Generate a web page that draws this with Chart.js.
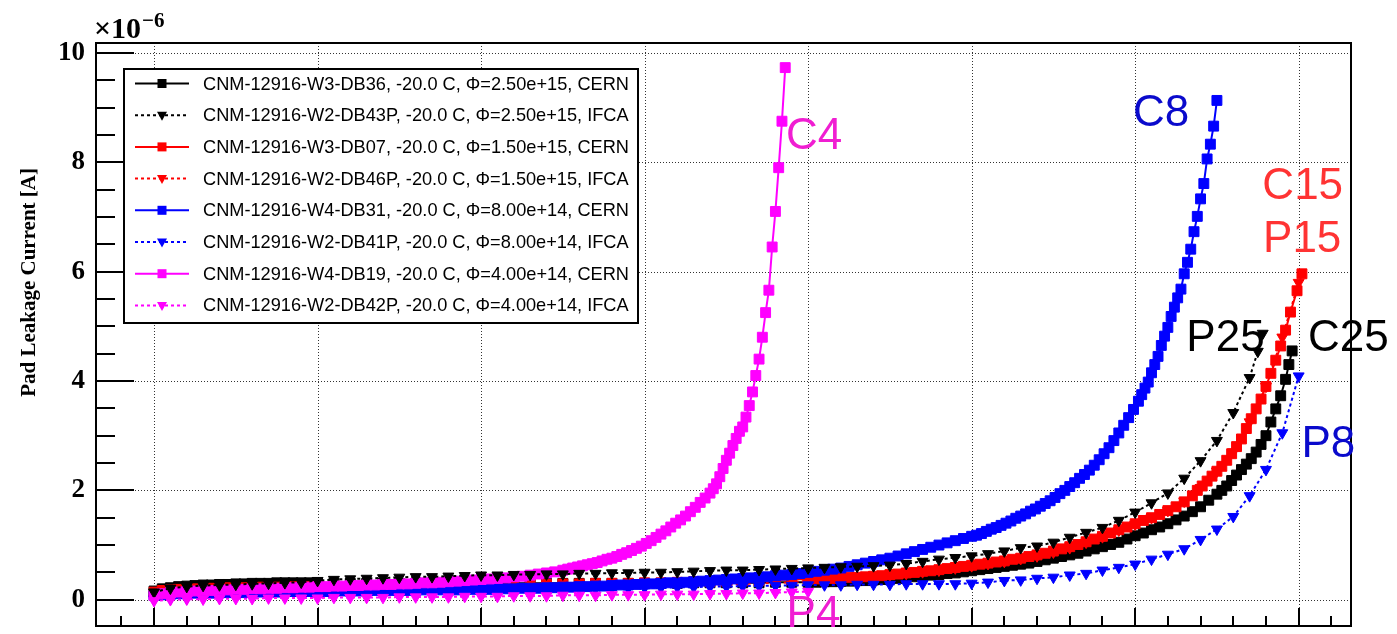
<!DOCTYPE html>
<html><head><meta charset="utf-8">
<script src="https://cdn.jsdelivr.net/npm/chart.js@4.4.1/dist/chart.umd.min.js"></script>
<style>html,body{margin:0;padding:0;background:#fff;overflow:hidden;}</style>
</head><body>
<canvas id="c" width="1397" height="634"></canvas>
<script>
// ---- Bias voltage [V] and pad leakage current [x1e-6 A] ----
const cernBlackV = [0,5,10,15,20,25,30,35,40,45,50,55,60,65,70,75,80,85,90,95,100,110,120,130,140,150,160,170,180,190,200,210,220,230,240,250,260,270,280,290,300,310,320,330,340,350,360,370,380,390,400,405,410,415,420,425,430,435,440,445,450,455,460,465,470,475,480,485,490,495,500,505,510,515,520,525,530,535,540,545,550,555,560,565,570,575,580,585,590,595,600,605,610,615,620,625,630,635,640,645,650,653,656,659,662,665,668,671,674,677,680,683,686,689,692,694,696];
const cernBlackI = [0.16,0.2,0.22,0.24,0.25,0.26,0.27,0.27,0.28,0.28,0.29,0.29,0.3,0.3,0.3,0.31,0.31,0.31,0.31,0.31,0.31,0.3,0.3,0.3,0.3,0.3,0.3,0.3,0.3,0.3,0.3,0.3,0.3,0.3,0.3,0.3,0.3,0.3,0.3,0.3,0.3,0.3,0.3,0.31,0.31,0.31,0.31,0.31,0.32,0.32,0.32,0.32,0.33,0.33,0.34,0.34,0.35,0.35,0.36,0.37,0.38,0.39,0.41,0.42,0.43,0.45,0.46,0.48,0.49,0.51,0.53,0.55,0.57,0.59,0.61,0.63,0.65,0.67,0.7,0.73,0.76,0.79,0.82,0.85,0.89,0.93,0.97,1.01,1.05,1.11,1.17,1.22,1.28,1.33,1.39,1.46,1.53,1.61,1.7,1.82,1.93,2.0,2.08,2.18,2.28,2.38,2.48,2.58,2.7,2.84,3.0,3.25,3.49,3.73,4.03,4.3,4.55];

const ifcaBlackV = [0,10,20,30,40,50,60,70,80,90,100,110,120,130,140,150,160,170,180,190,200,210,220,230,240,250,260,270,280,290,300,310,320,330,340,350,360,370,380,390,400,410,420,430,440,450,460,470,480,490,500,510,520,530,540,550,560,570,580,590,600,610,620,630,640,650,660,670,675,678];
const ifcaBlackI = [0.14,0.21,0.24,0.26,0.27,0.28,0.29,0.3,0.31,0.32,0.35,0.37,0.38,0.39,0.4,0.41,0.42,0.42,0.43,0.44,0.45,0.45,0.46,0.46,0.47,0.47,0.48,0.48,0.49,0.49,0.5,0.5,0.51,0.52,0.53,0.54,0.54,0.55,0.56,0.57,0.58,0.59,0.6,0.61,0.62,0.63,0.66,0.7,0.74,0.77,0.8,0.84,0.89,0.95,0.98,1.05,1.14,1.23,1.32,1.45,1.6,1.77,1.95,2.22,2.54,2.91,3.42,4.06,4.54,4.87];

const cernRedV = [0,5,10,15,20,25,30,35,40,45,50,55,60,65,70,75,80,85,90,95,100,110,120,130,140,150,160,170,180,190,200,210,220,230,240,250,260,270,280,290,300,310,320,330,340,350,360,370,380,390,400,405,410,415,420,425,430,435,440,445,450,455,460,465,470,475,480,485,490,495,500,505,510,515,520,525,530,535,540,545,550,555,560,565,570,575,580,585,590,595,600,605,610,615,620,625,630,635,638,641,644,647,650,653,656,659,662,665,668,671,674,677,680,683,686,689,692,695,699,702];
const cernRedI = [0.14,0.17,0.18,0.19,0.2,0.2,0.21,0.21,0.21,0.22,0.22,0.22,0.22,0.23,0.23,0.23,0.23,0.24,0.24,0.24,0.24,0.24,0.25,0.25,0.25,0.25,0.26,0.26,0.26,0.27,0.27,0.27,0.28,0.28,0.28,0.29,0.29,0.3,0.3,0.3,0.31,0.31,0.32,0.33,0.33,0.34,0.35,0.35,0.36,0.37,0.38,0.38,0.39,0.39,0.4,0.41,0.41,0.42,0.43,0.44,0.46,0.47,0.49,0.5,0.52,0.53,0.55,0.57,0.59,0.61,0.63,0.65,0.67,0.69,0.71,0.74,0.76,0.79,0.82,0.85,0.89,0.93,0.97,1.01,1.06,1.11,1.16,1.22,1.28,1.33,1.39,1.45,1.5,1.56,1.63,1.7,1.79,1.9,2.0,2.08,2.17,2.26,2.35,2.44,2.55,2.67,2.8,2.94,3.13,3.31,3.49,3.67,3.9,4.14,4.38,4.64,4.93,5.26,5.65,5.96];

const ifcaRedV = [0,10,20,30,40,50,60,70,80,90,100,110,120,130,140,150,160,170,180,190,200,210,220,230,240,250,260,270,280,290,300,310,320,330,340,350,360,370,380,390,400,410,420,430,440,450,460,470,480,490,500,510,520,530,540,550,560,570,580,590,600,610,620,630,640,650,660,670,680,690,700];
const ifcaRedI = [0.02,0.05,0.07,0.09,0.1,0.11,0.12,0.13,0.14,0.15,0.15,0.16,0.16,0.17,0.17,0.18,0.18,0.19,0.19,0.2,0.2,0.2,0.21,0.21,0.22,0.22,0.23,0.23,0.24,0.24,0.25,0.25,0.26,0.26,0.27,0.28,0.29,0.3,0.31,0.32,0.34,0.36,0.38,0.4,0.42,0.45,0.48,0.51,0.54,0.58,0.62,0.66,0.7,0.75,0.8,0.87,0.95,1.05,1.15,1.27,1.38,1.5,1.63,1.8,2.05,2.35,2.7,3.25,3.9,4.8,5.8];

const cernBlueV = [0,5,10,15,20,25,30,35,40,45,50,55,60,65,70,75,80,85,90,95,100,105,110,115,120,125,130,135,140,145,150,155,160,165,170,175,180,185,190,195,200,205,210,215,220,225,230,235,240,245,250,255,260,265,270,275,280,285,290,295,300,305,310,315,320,325,330,335,340,345,350,355,360,365,370,375,380,385,390,395,400,405,410,415,420,425,430,435,440,445,450,455,460,465,470,475,480,485,490,495,500,503,506,509,512,515,518,521,524,527,530,533,536,539,542,545,548,551,554,557,560,563,566,569,572,575,578,581,584,587,590,593,596,599,602,604,606,608,610,612,614,616,618,620,622,624,626,628,630,632,634,636,638,640,642,644,646,648,650];
const cernBlueI = [0.08,0.09,0.1,0.11,0.11,0.12,0.12,0.12,0.13,0.13,0.13,0.13,0.14,0.14,0.14,0.14,0.15,0.15,0.15,0.15,0.15,0.15,0.16,0.16,0.16,0.16,0.16,0.17,0.17,0.17,0.17,0.17,0.17,0.18,0.18,0.18,0.18,0.18,0.19,0.19,0.19,0.19,0.2,0.2,0.2,0.21,0.21,0.21,0.22,0.22,0.23,0.23,0.24,0.24,0.25,0.25,0.26,0.27,0.27,0.28,0.29,0.29,0.3,0.31,0.31,0.32,0.33,0.34,0.35,0.36,0.37,0.38,0.39,0.4,0.41,0.42,0.44,0.45,0.46,0.48,0.5,0.52,0.54,0.56,0.58,0.61,0.64,0.67,0.7,0.73,0.76,0.8,0.84,0.88,0.92,0.96,1.0,1.04,1.08,1.12,1.16,1.18,1.21,1.25,1.29,1.32,1.36,1.4,1.44,1.49,1.53,1.57,1.62,1.66,1.71,1.76,1.81,1.87,1.94,2.0,2.07,2.14,2.22,2.29,2.37,2.46,2.56,2.67,2.78,2.91,3.05,3.19,3.33,3.48,3.63,3.75,3.87,3.98,4.15,4.3,4.45,4.65,4.82,4.98,5.18,5.35,5.52,5.68,5.96,6.17,6.41,6.73,7.01,7.33,7.61,8.06,8.33,8.66,9.13];

const ifcaBlueV = [0,10,20,30,40,50,60,70,80,90,100,110,120,130,140,150,160,170,180,190,200,210,220,230,240,250,260,270,280,290,300,310,320,330,340,350,360,370,380,390,400,410,420,430,440,450,460,470,480,490,500,510,520,530,540,550,560,570,580,590,600,610,620,630,640,650,660,670,680,690,700];
const ifcaBlueI = [0.0,0.02,0.03,0.04,0.05,0.06,0.07,0.07,0.08,0.08,0.09,0.1,0.1,0.11,0.12,0.12,0.13,0.14,0.15,0.16,0.17,0.17,0.18,0.18,0.19,0.19,0.2,0.2,0.21,0.21,0.22,0.22,0.23,0.23,0.24,0.24,0.25,0.25,0.26,0.26,0.27,0.27,0.27,0.28,0.28,0.28,0.29,0.29,0.29,0.29,0.3,0.32,0.35,0.36,0.39,0.41,0.45,0.48,0.54,0.59,0.65,0.74,0.83,0.93,1.1,1.29,1.52,1.9,2.38,3.05,4.09];

const cernPinkV = [0,5,10,15,20,25,30,35,40,45,50,55,60,65,70,75,80,85,90,95,100,105,110,115,120,125,130,135,140,145,150,155,160,165,170,175,180,185,190,195,200,205,210,215,220,225,230,235,240,245,250,253,256,259,262,265,268,271,274,277,280,283,286,289,292,295,298,301,304,307,310,313,316,319,322,325,328,331,334,337,340,342,344,346,348,350,352,354,356,358,360,362,364,366,368,370,372,374,376,378,380,382,384,386];
const cernPinkI = [0.08,0.11,0.13,0.14,0.15,0.16,0.17,0.17,0.18,0.18,0.19,0.19,0.2,0.2,0.21,0.21,0.22,0.22,0.23,0.23,0.24,0.24,0.25,0.25,0.26,0.26,0.27,0.27,0.28,0.28,0.29,0.29,0.3,0.31,0.31,0.32,0.33,0.34,0.35,0.36,0.37,0.38,0.39,0.4,0.42,0.43,0.45,0.47,0.49,0.51,0.54,0.56,0.58,0.6,0.62,0.64,0.66,0.68,0.71,0.74,0.76,0.79,0.83,0.86,0.9,0.94,0.98,1.03,1.08,1.14,1.2,1.26,1.33,1.4,1.46,1.53,1.61,1.69,1.78,1.86,1.95,2.03,2.12,2.25,2.4,2.55,2.68,2.82,2.95,3.08,3.16,3.34,3.55,3.8,4.1,4.4,4.8,5.25,5.66,6.45,7.1,7.9,8.75,9.73];

const ifcaPinkV = [0,10,20,30,40,50,60,70,80,90,100,110,120,130,140,150,160,170,180,190,200,210,220,230,240,250,260,270,280,290,300,310,320,330,340,350,360,370,380,390,400];
const ifcaPinkI = [-0.02,0.0,0.01,0.01,0.02,0.02,0.02,0.03,0.03,0.03,0.03,0.04,0.04,0.04,0.04,0.05,0.05,0.05,0.05,0.06,0.06,0.06,0.07,0.07,0.07,0.08,0.08,0.08,0.09,0.09,0.09,0.1,0.1,0.1,0.11,0.11,0.12,0.12,0.13,0.14,0.15];

const legendTexts = [
  'CNM-12916-W3-DB36, -20.0 C, \u03A6=2.50e+15, CERN',
  'CNM-12916-W2-DB43P, -20.0 C, \u03A6=2.50e+15, IFCA',
  'CNM-12916-W3-DB07, -20.0 C, \u03A6=1.50e+15, CERN',
  'CNM-12916-W2-DB46P, -20.0 C, \u03A6=1.50e+15, IFCA',
  'CNM-12916-W4-DB31, -20.0 C, \u03A6=8.00e+14, CERN',
  'CNM-12916-W2-DB41P, -20.0 C, \u03A6=8.00e+14, IFCA',
  'CNM-12916-W4-DB19, -20.0 C, \u03A6=4.00e+14, CERN',
  'CNM-12916-W2-DB42P, -20.0 C, \u03A6=4.00e+14, IFCA'
];
const yTickValues = [0, 2, 4, 6, 8, 10];
const yMinorValues = [0.5,1,1.5,2.5,3,3.5,4.5,5,5.5,6.5,7,7.5,8.5,9,9.5];
const xMajorValues = [0,100,200,300,400,500,600,700];
const xMinorValues = [-20,20,40,60,80,120,140,160,180,220,240,260,280,320,340,360,380,420,440,460,480,520,540,560,580,620,640,660,680,720];
// curve tags: text, V, I (baseline-left anchor), colour
const tagText = ['C4','C8','C15','P15','P25','C25','P8','P4'];
const tagV    = [386.4, 598.7, 677.8, 678.2, 631.3, 705.7, 701.7, 386.8];
const tagI    = [8.25, 8.67, 7.33, 6.35, 4.54, 4.54, 2.61, -0.49];
const tagColor= ['#f01ed2','#0a0acc','#ff3333','#ff3333','#000000','#000000','#0a0acc','#f01ed2'];

const BLACK='#000000', RED='#ff0000', BLUE='#0000ff', PINK='#ff00ff';
function mk(label, vs, is, color, cern) {
  return {
    label, data: vs.map((v, i) => ({x: v, y: is[i]})),
    showLine: true, borderColor: color, backgroundColor: color,
    borderWidth: 2, borderDash: cern ? [] : [3, 3],
    pointStyle: cern ? 'rect' : 'triangle', pointRotation: cern ? 0 : 180,
    pointRadius: cern ? 7 : 6.3, pointBorderWidth: 1,
    pointBorderColor: color, pointBackgroundColor: color, tension: 0
  };
}
// first dataset is drawn on top
const datasets = [
  mk(legendTexts[7], ifcaPinkV, ifcaPinkI, PINK, false),
  mk(legendTexts[1], ifcaBlackV, ifcaBlackI, BLACK, false),
  mk(legendTexts[6], cernPinkV, cernPinkI, PINK, true),
  mk(legendTexts[5], ifcaBlueV, ifcaBlueI, BLUE, false),
  mk(legendTexts[4], cernBlueV, cernBlueI, BLUE, true),
  mk(legendTexts[2], cernRedV, cernRedI, RED, true),
  mk(legendTexts[3], ifcaRedV, ifcaRedI, RED, false),
  mk(legendTexts[0], cernBlackV, cernBlackI, BLACK, true)
];
const legendStyle = [[BLACK,true],[BLACK,false],[RED,true],[RED,false],[BLUE,true],[BLUE,false],[PINK,true],[PINK,false]];

function square(ctx, x, y, s, c){ ctx.fillStyle=c; ctx.fillRect(x-s/2, y-s/2, s, s); }
function tri(ctx, x, y, s, c){ ctx.fillStyle=c; ctx.beginPath(); ctx.moveTo(x-s/2, y-s*0.35); ctx.lineTo(x+s/2, y-s*0.35); ctx.lineTo(x, y+s*0.55); ctx.closePath(); ctx.fill(); }

const rootPlugin = {
  id: 'rootStyle',
  beforeDraw(chart) {
    const ctx = chart.ctx; ctx.save(); ctx.fillStyle = '#fff'; ctx.fillRect(0,0,chart.width,chart.height); ctx.restore();
  },
  beforeDatasetsDraw(chart) {
    const ctx = chart.ctx, xs = chart.scales.x, ys = chart.scales.y, a = chart.chartArea;
    ctx.save();
    ctx.strokeStyle = '#333'; ctx.lineWidth = 1; ctx.setLineDash([1, 2]);
    xMajorValues.forEach(v => { const p = Math.round(xs.getPixelForValue(v)) + 0.5; ctx.beginPath(); ctx.moveTo(p, a.top); ctx.lineTo(p, a.bottom); ctx.stroke(); });
    yTickValues.forEach(v => { const p = Math.round(ys.getPixelForValue(v)) + 0.5; ctx.beginPath(); ctx.moveTo(a.left, p); ctx.lineTo(a.right, p); ctx.stroke(); });
    ctx.setLineDash([]);
    ctx.strokeStyle = '#000'; ctx.lineWidth = 2;
    yTickValues.forEach(v => { const p = Math.round(ys.getPixelForValue(v)); ctx.beginPath(); ctx.moveTo(a.left, p); ctx.lineTo(a.left + 38, p); ctx.stroke(); });
    yMinorValues.forEach(v => { const p = Math.round(ys.getPixelForValue(v)); ctx.beginPath(); ctx.moveTo(a.left, p); ctx.lineTo(a.left + 19, p); ctx.stroke(); });
    xMajorValues.forEach(v => { const p = Math.round(xs.getPixelForValue(v)); ctx.beginPath(); ctx.moveTo(p, a.bottom); ctx.lineTo(p, a.bottom - 18); ctx.stroke(); });
    xMinorValues.forEach(v => { const p = Math.round(xs.getPixelForValue(v)); ctx.beginPath(); ctx.moveTo(p, a.bottom); ctx.lineTo(p, a.bottom - 10); ctx.stroke(); });
    ctx.restore();
  },
  afterDraw(chart) {
    const ctx = chart.ctx, xs = chart.scales.x, ys = chart.scales.y, a = chart.chartArea;
    ctx.save();
    // frame
    ctx.strokeStyle = '#000'; ctx.lineWidth = 2;
    ctx.strokeRect(a.left, a.top, a.right - a.left, a.bottom - a.top);
    // legend box
    const L = {x0: 124, y0: 69, x1: 638, y1: 323};
    ctx.fillStyle = '#fff'; ctx.fillRect(L.x0, L.y0, L.x1 - L.x0, L.y1 - L.y0);
    ctx.lineWidth = 2; ctx.strokeRect(L.x0, L.y0, L.x1 - L.x0, L.y1 - L.y0);
    ctx.font = '18.2px "Liberation Sans", Arial, sans-serif'; ctx.textBaseline = 'middle'; ctx.textAlign = 'left';
    legendTexts.forEach((t, i) => {
      const y = 83.5 + i * 31.7, [c, cern] = legendStyle[i];
      ctx.strokeStyle = c; ctx.lineWidth = 2; ctx.setLineDash(cern ? [] : [3, 3]);
      ctx.beginPath(); ctx.moveTo(135, y); ctx.lineTo(189, y); ctx.stroke(); ctx.setLineDash([]);
      if (cern) square(ctx, 162, y, 9, c); else tri(ctx, 162, y, 10, c);
      ctx.fillStyle = '#000'; ctx.fillText(t, 203, y + 1);
    });
    // curve tags
    ctx.font = '44px "Liberation Sans", Arial, sans-serif'; ctx.textBaseline = 'alphabetic';
    tagText.forEach((t, i) => { ctx.fillStyle = tagColor[i]; ctx.fillText(t, xs.getPixelForValue(tagV[i]), ys.getPixelForValue(tagI[i])); });
    // y title
    ctx.fillStyle = '#000';
    ctx.save(); ctx.translate(30, 168); ctx.rotate(-Math.PI / 2);
    ctx.font = 'bold 21px "Liberation Serif", "Times New Roman", serif'; ctx.textAlign = 'right'; ctx.textBaseline = 'middle';
    ctx.fillText('Pad Leakage Current [A]', 0, 0); ctx.restore();
    // exponent
    ctx.textAlign = 'left'; ctx.textBaseline = 'alphabetic';
    ctx.font = 'bold 30px "Liberation Serif", "Times New Roman", serif';
    ctx.fillText('\u00D710', 94, 38);
    const w = ctx.measureText('\u00D710').width;
    ctx.font = 'bold 21px "Liberation Serif", "Times New Roman", serif';
    ctx.fillText('\u22126', 94 + w + 1, 27);
    ctx.restore();
  }
};

new Chart(document.getElementById('c'), {
  type: 'scatter',
  data: { datasets },
  options: {
    responsive: false, animation: false, devicePixelRatio: 1, events: [],
    layout: { padding: { left: 0, right: 46, top: 43, bottom: 1.5 } },
    plugins: { legend: { display: false }, tooltip: { enabled: false } },
    scales: {
      x: { type: 'linear', min: -35.5, max: 732, display: false },
      y: {
        type: 'linear', min: -0.48, max: 10.18, position: 'left',
        afterBuildTicks: (s) => { s.ticks = yTickValues.map(v => ({ value: v })); },
        afterFit: (s) => { s.width = 96; s.paddingTop = 0; s.paddingBottom = 0; },
        ticks: { font: { family: '"Liberation Serif", "Times New Roman", serif', weight: 'bold', size: 27 }, color: '#000', padding: 11, autoSkip: false, callback: (v) => String(v) },
        grid: { display: false, drawTicks: false },
        border: { display: false }
      }
    }
  },
  plugins: [rootPlugin]
});
</script>
</body></html>
